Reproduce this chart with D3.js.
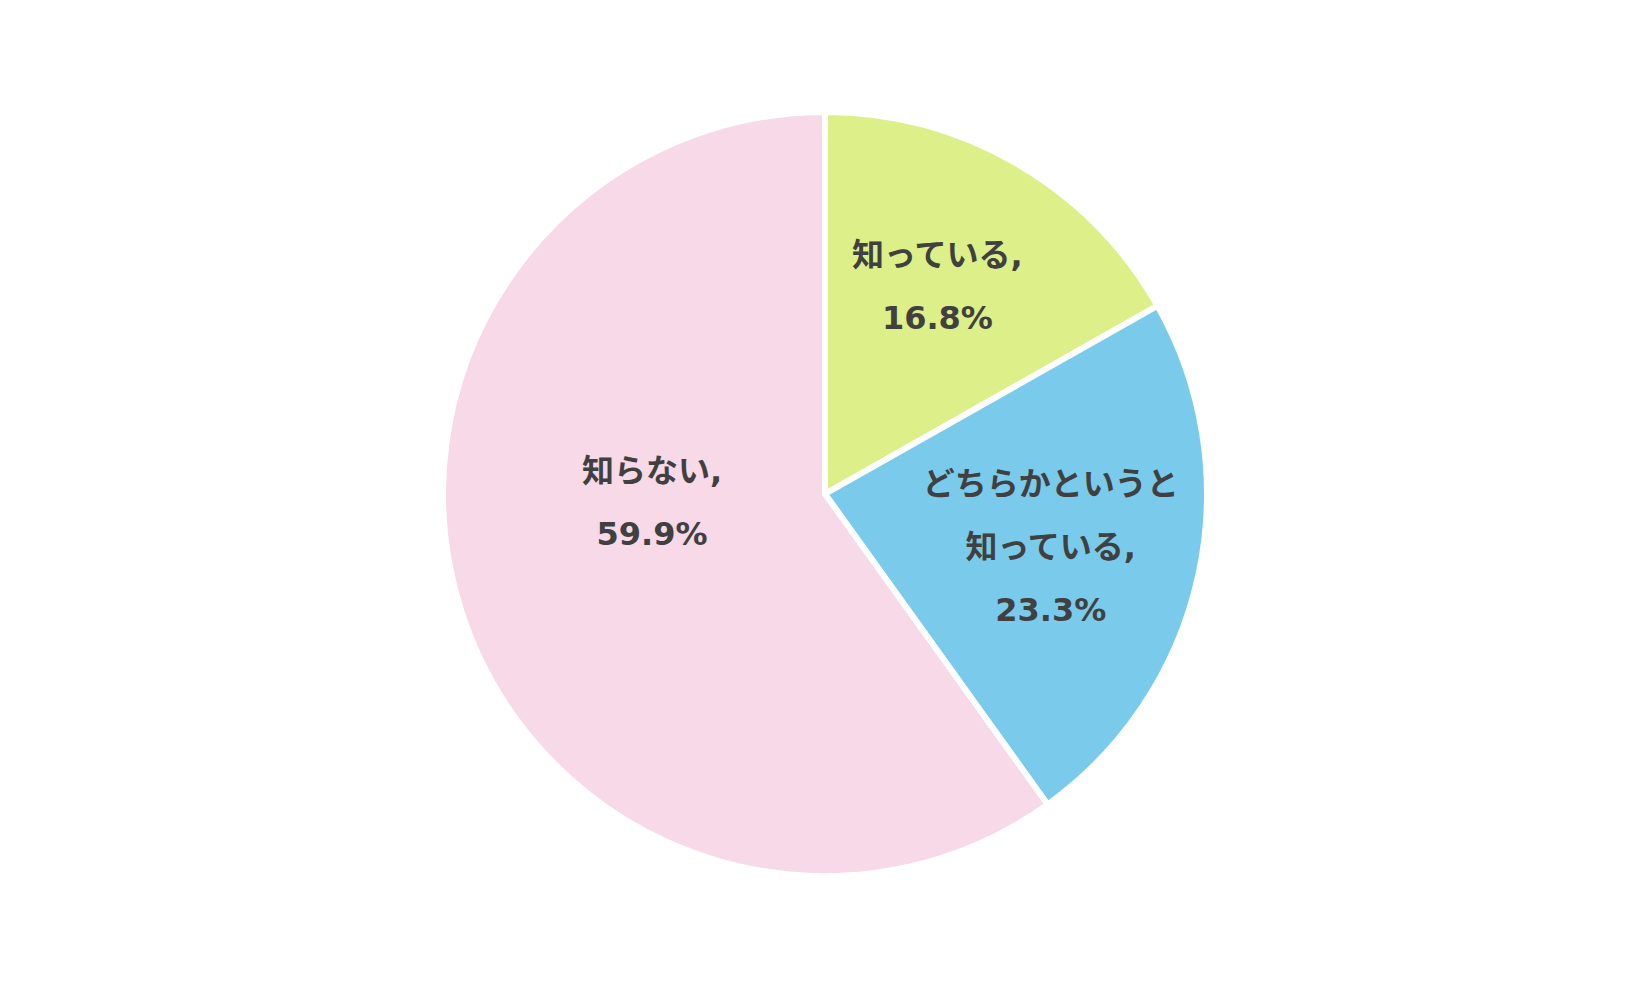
<!DOCTYPE html>
<html>
<head>
<meta charset="utf-8">
<script src="https://cdn.jsdelivr.net/npm/d3@7"></script>
<style>
  body { margin: 0; background: #fff; }
  svg text { font-family: "DejaVu Sans", "Noto Sans CJK JP", sans-serif; font-weight: bold; fill: #404040; }
</style>
</head>
<body>
<svg></svg>
<script>
// slice data, clockwise from 12 o'clock
const categories = ["知っている", "どちらかというと知っている", "知らない"];
const values = [16.8, 23.3, 59.9];
const labelLines = [
  ["知っている,", "16.8%"],
  ["どちらかというと", "知っている,", "23.3%"],
  ["知らない,", "59.9%"]
];
const colors = ["#dcef89", "#7acbeb", "#f7d9e7"];

window.onload = function () {
  let width = 1649, height = 990;
  let svg = d3.select("svg").attr("width", width).attr("height", height);

  let cx = 825, cy = 494, radius = 382;
  // nudges for label placement (Excel best-fit)
  let labelNudge = [[-4, -8], [0, 3], [47, -62]];
  let lineGap = 63;

  let pie = d3.pie().sort(null).value(d => d);
  let arcs = pie(values);
  let arc = d3.arc().innerRadius(0).outerRadius(radius);
  let labelArc = d3.arc().innerRadius(radius * 0.605).outerRadius(radius * 0.605);

  let g = svg.append("g").attr("transform", "translate(" + cx + "," + cy + ")");

  g.selectAll("path")
    .data(arcs)
    .enter().append("path")
    .attr("d", arc)
    .attr("fill", (d, i) => colors[i])
    .attr("stroke", "#fff")
    .attr("stroke-width", 6)
    .attr("stroke-linejoin", "miter");

  // labels
  arcs.forEach(function (d, i) {
    let c = labelArc.centroid(d);
    let x = c[0] + labelNudge[i][0];
    let y = c[1] + labelNudge[i][1];
    let lines = labelLines[i];
    let firstBase = y - (lines.length - 1) * lineGap / 2 + 11;
    let t = g.append("text").attr("text-anchor", "middle").style("font-size", "32px");
    lines.forEach(function (line, k) {
      t.append("tspan").attr("x", x).attr("y", firstBase + k * lineGap).text(line);
    });
  });
};
</script>
</body>
</html>
